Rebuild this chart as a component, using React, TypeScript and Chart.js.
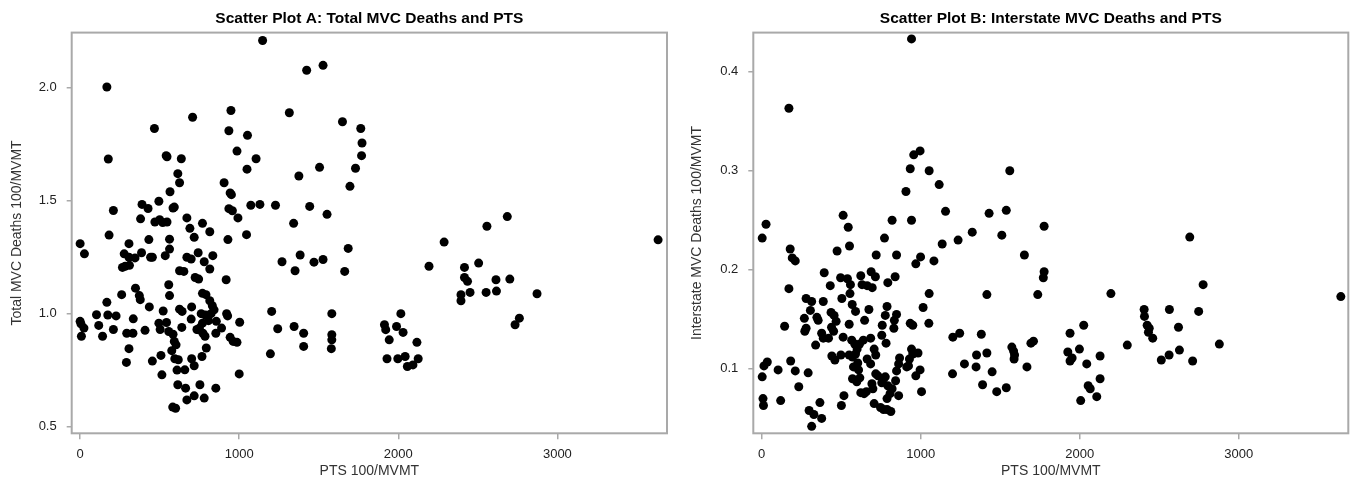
import React, { useEffect, useRef } from "react";
import { Chart, registerables } from "chart.js";

Chart.register(...registerables);

const FONT = "'Liberation Sans', Arial, sans-serif";

const titleA = "Scatter Plot A: Total MVC Deaths and PTS";
const titleB = "Scatter Plot B: Interstate MVC Deaths and PTS";
const xAxisTitle = "PTS 100/MVMT";
const yAxisTitleA = "Total MVC Deaths 100/MVMT";
const yAxisTitleB = "Interstate MVC Deaths 100/MVMT";

const xTicks = [0, 1000, 2000, 3000];
const yTicksA = [0.5, 1.0, 1.5, 2.0];
const yTicksB = [0.1, 0.2, 0.3, 0.4];

// [PTS 100/MVMT, Total MVC deaths 100/MVMT]
const pointsA: [number, number][] = [
  [1147, 2.21], [1424, 2.078], [1527, 2.1], [168, 2.004], [948, 1.9], [1315, 1.89],
  [707, 1.87], [467, 1.82], [935, 1.81], [1052, 1.79], [1649, 1.85], [1764, 1.82],
  [1772, 1.756], [177, 1.685], [986, 1.72], [541, 1.7], [546, 1.695], [636, 1.686],
  [1106, 1.686], [1769, 1.7], [1049, 1.64], [614, 1.62], [1375, 1.61], [1731, 1.644],
  [625, 1.58], [905, 1.58], [1696, 1.564], [565, 1.54], [943, 1.535], [951, 1.527],
  [1505, 1.648], [495, 1.498], [389, 1.484], [427, 1.466], [209, 1.457], [584, 1.468],
  [592, 1.472], [1073, 1.48], [1130, 1.484], [1228, 1.48], [1443, 1.475], [935, 1.465],
  [957, 1.456], [992, 1.424], [1552, 1.44], [380, 1.42], [470, 1.406], [500, 1.416],
  [519, 1.404], [546, 1.406], [671, 1.424], [690, 1.378], [769, 1.4], [815, 1.363],
  [1342, 1.4], [182, 1.348], [1046, 1.35], [717, 1.338], [0, 1.31], [27, 1.265],
  [307, 1.31], [432, 1.328], [929, 1.328], [562, 1.33], [562, 1.286], [277, 1.265],
  [307, 1.25], [386, 1.27], [345, 1.247], [266, 1.205], [283, 1.21], [310, 1.214],
  [443, 1.25], [454, 1.25], [535, 1.257], [671, 1.25], [698, 1.242], [742, 1.27],
  [780, 1.23], [834, 1.257], [815, 1.198], [625, 1.19], [652, 1.187], [723, 1.16],
  [745, 1.153], [1269, 1.23], [1383, 1.26], [1470, 1.228], [1527, 1.24], [1685, 1.289],
  [1351, 1.19], [1663, 1.187], [2193, 1.21], [2288, 1.317], [2557, 1.387], [2685, 1.43],
  [2505, 1.224], [2416, 1.205], [2416, 1.16], [2435, 1.143], [2451, 1.094], [2394, 1.084],
  [2394, 1.057], [2552, 1.094], [2617, 1.1], [2614, 1.15], [2701, 1.153], [2872, 1.088],
  [2734, 0.951], [2761, 0.98], [3633, 1.327], [918, 1.15], [557, 1.128], [562, 1.08],
  [348, 1.113], [261, 1.084], [372, 1.08], [378, 1.062], [435, 1.03], [168, 1.05],
  [769, 1.09], [791, 1.084], [815, 1.057], [522, 1.012], [625, 1.02], [641, 1.01],
  [701, 1.03], [831, 1.035], [842, 1.017], [823, 1.0], [761, 1.0], [921, 1.0],
  [927, 0.99], [1003, 0.962], [1204, 1.01], [1582, 1.0], [2016, 1.0], [0, 0.966],
  [5, 0.955], [24, 0.936], [8, 0.9], [103, 0.995], [174, 0.994], [117, 0.948],
  [226, 0.99], [209, 0.93], [141, 0.9], [293, 0.913], [332, 0.913], [334, 0.977],
  [408, 0.926], [307, 0.845], [291, 0.784], [495, 0.958], [503, 0.93], [543, 0.961],
  [557, 0.921], [584, 0.909], [508, 0.815], [454, 0.79], [514, 0.729], [639, 0.939],
  [698, 0.976], [742, 0.929], [769, 0.958], [788, 0.994], [807, 0.969], [734, 0.93],
  [750, 0.936], [772, 0.913], [785, 0.9], [793, 0.848], [856, 0.966], [853, 0.913],
  [889, 0.936], [592, 0.877], [603, 0.862], [576, 0.836], [595, 0.8], [617, 0.796],
  [609, 0.75], [701, 0.8], [766, 0.81], [717, 0.769], [658, 0.751], [614, 0.685],
  [663, 0.67], [753, 0.685], [853, 0.67], [717, 0.636], [671, 0.618], [780, 0.626],
  [582, 0.586], [600, 0.581], [943, 0.895], [962, 0.877], [986, 0.873], [1000, 0.733],
  [1196, 0.822], [1242, 0.933], [1345, 0.943], [1405, 0.913], [1405, 0.855], [1579, 0.845],
  [1582, 0.907], [1582, 0.884], [1913, 0.951], [1921, 0.929], [1943, 0.884], [1989, 0.943],
  [2030, 0.917], [1929, 0.8], [1997, 0.8], [2043, 0.81], [2117, 0.873], [2057, 0.766],
  [2092, 0.773], [2125, 0.8],
];

// [PTS 100/MVMT, Interstate MVC deaths 100/MVMT]
const pointsB: [number, number][] = [
  [942, 0.433], [171, 0.363], [996, 0.32], [956, 0.316], [934, 0.302], [1053, 0.3],
  [1560, 0.3], [1116, 0.286], [907, 0.279], [1156, 0.259], [1430, 0.257], [1538, 0.26],
  [942, 0.25], [820, 0.25], [512, 0.255], [27, 0.246], [3, 0.232], [544, 0.243],
  [1776, 0.244], [1510, 0.235], [1324, 0.238], [1235, 0.23], [1135, 0.226], [772, 0.232],
  [552, 0.224], [2692, 0.233], [179, 0.221], [192, 0.212], [211, 0.209], [474, 0.219],
  [720, 0.215], [848, 0.215], [999, 0.213], [969, 0.206], [1083, 0.209], [1652, 0.215],
  [1776, 0.198], [1771, 0.192], [1736, 0.175], [2196, 0.176], [2776, 0.185], [3642, 0.173],
  [1416, 0.175], [1053, 0.176], [1015, 0.162], [171, 0.181], [393, 0.197], [431, 0.184],
  [496, 0.192], [539, 0.191], [558, 0.185], [555, 0.176], [623, 0.194], [631, 0.185],
  [663, 0.184], [695, 0.182], [688, 0.198], [715, 0.193], [793, 0.187], [839, 0.193],
  [279, 0.171], [314, 0.168], [306, 0.159], [387, 0.168], [504, 0.171], [569, 0.165],
  [590, 0.158], [674, 0.16], [788, 0.163], [777, 0.154], [848, 0.155], [834, 0.149],
  [268, 0.151], [279, 0.141], [271, 0.138], [347, 0.152], [355, 0.149], [436, 0.157],
  [455, 0.154], [468, 0.148], [144, 0.143], [377, 0.136], [387, 0.131], [339, 0.124],
  [439, 0.142], [452, 0.138], [420, 0.131], [512, 0.132], [550, 0.145], [566, 0.129],
  [585, 0.125], [600, 0.12], [615, 0.125], [647, 0.149], [639, 0.129], [685, 0.131],
  [758, 0.144], [755, 0.134], [782, 0.126], [831, 0.141], [934, 0.146], [950, 0.144],
  [1051, 0.146], [1202, 0.132], [1245, 0.136], [1381, 0.135], [1939, 0.136], [2025, 0.144],
  [2299, 0.124], [2405, 0.16], [2407, 0.153], [2424, 0.144], [2437, 0.141], [2432, 0.137],
  [2459, 0.131], [2564, 0.16], [2621, 0.142], [2748, 0.158], [2878, 0.125], [2627, 0.119],
  [2562, 0.114], [2513, 0.109], [2710, 0.108], [942, 0.12], [950, 0.115], [929, 0.11],
  [983, 0.116], [923, 0.103], [996, 0.099], [969, 0.093], [1005, 0.077], [1275, 0.105],
  [1200, 0.095], [1348, 0.102], [1351, 0.114], [1416, 0.116], [1449, 0.097], [1389, 0.084],
  [1478, 0.077], [1538, 0.081], [1573, 0.122], [1584, 0.118], [1590, 0.114], [1587, 0.11],
  [1668, 0.102], [1693, 0.126], [1709, 0.128], [1925, 0.117], [1939, 0.108], [1952, 0.111],
  [1998, 0.12], [2044, 0.105], [2128, 0.113], [2053, 0.083], [2066, 0.08], [2107, 0.072],
  [2128, 0.09], [2006, 0.068], [3, 0.092], [14, 0.103], [35, 0.107], [8, 0.07],
  [11, 0.063], [103, 0.099], [119, 0.068], [182, 0.108], [211, 0.098], [233, 0.082],
  [292, 0.096], [298, 0.058], [328, 0.054], [314, 0.042], [377, 0.05], [366, 0.066],
  [441, 0.113], [460, 0.109], [498, 0.114], [501, 0.063], [517, 0.073], [550, 0.114],
  [571, 0.112], [590, 0.115], [577, 0.102], [604, 0.106], [609, 0.099], [571, 0.09],
  [598, 0.087], [617, 0.091], [623, 0.076], [644, 0.075], [658, 0.077], [699, 0.08],
  [693, 0.085], [663, 0.11], [685, 0.105], [707, 0.12], [717, 0.114], [717, 0.095],
  [731, 0.093], [755, 0.086], [766, 0.09], [777, 0.092], [793, 0.083], [707, 0.065],
  [747, 0.061], [766, 0.059], [788, 0.059], [812, 0.057], [788, 0.07], [807, 0.075],
  [820, 0.08], [842, 0.088], [861, 0.073], [848, 0.098], [861, 0.105], [867, 0.111],
  [912, 0.102],
];

const FRAME_COLOR = "#a9a9a9";

const framePlugin = {
  id: "plotFrame",
  beforeDatasetsDraw(chart: any) {
    const { ctx, chartArea } = chart;
    const { left, top, right, bottom } = chartArea;
    ctx.save();
    ctx.strokeStyle = FRAME_COLOR;
    ctx.lineWidth = 2;
    ctx.strokeRect(left, top, right - left, bottom - top);
    ctx.restore();
  },
};

type PlotProps = {
  width: number;
  height: number;
  left: number;
  points: [number, number][];
  title: string;
  yTitle: string;
  yTicks: number[];
  yMin: number;
  yMax: number;
  yAxisWidth: number;
  padRight: number;
};

function ScatterPlot(props: PlotProps) {
  const ref = useRef<HTMLCanvasElement | null>(null);
  useEffect(() => {
    if (!ref.current) return;
    const chart = new Chart(ref.current, {
      type: "scatter",
      data: {
        datasets: [
          {
            data: props.points.map(([x, y]) => ({ x, y })),
            backgroundColor: "#000",
            borderColor: "#000",
            borderWidth: 0,
            pointRadius: 4.5,
            pointHoverRadius: 4.5,
          },
        ],
      },
      options: {
        animation: false,
        responsive: false,
        maintainAspectRatio: false,
        events: [],
        layout: { padding: { left: 0, top: 0, right: props.padRight, bottom: 0 } },
        plugins: {
          legend: { display: false },
          tooltip: { enabled: false },
          title: {
            display: true,
            text: props.title,
            fullSize: false,
            color: "#000",
            font: { family: FONT, size: 15.5, weight: "bold" },
            padding: { top: 9, bottom: 5 },
          },
        },
        scales: {
          x: {
            type: "linear",
            min: -53,
            max: 3689,
            afterBuildTicks: (s: any) => {
              s.ticks = xTicks.map((v) => ({ value: v }));
            },
            afterFit: (s: any) => {
              s.height = props.height - 433.3;
            },
            grid: {
              display: true,
              drawOnChartArea: false,
              drawTicks: true,
              tickLength: 6,
              color: FRAME_COLOR,
              lineWidth: 1.5,
            },
            border: { display: false },
            ticks: {
              color: "#222",
              font: { family: FONT, size: 13 },
              padding: 7,
              maxRotation: 0,
              autoSkip: false,
              callback: (v: any) => String(v),
            },
            title: {
              display: true,
              text: xAxisTitle,
              color: "#333",
              font: { family: FONT, size: 14 },
              padding: { top: 0, bottom: 9.5 },
            },
          },
          y: {
            type: "linear",
            min: props.yMin,
            max: props.yMax,
            afterBuildTicks: (s: any) => {
              s.ticks = props.yTicks.map((v) => ({ value: v }));
            },
            afterFit: (s: any) => {
              s.width = props.yAxisWidth;
            },
            grid: {
              display: true,
              drawOnChartArea: false,
              drawTicks: true,
              tickLength: 5,
              color: FRAME_COLOR,
              lineWidth: 1.5,
            },
            border: { display: false },
            ticks: {
              color: "#222",
              font: { family: FONT, size: 13 },
              padding: 10,
              autoSkip: false,
              callback: (v: any) => Number(v).toFixed(1),
            },
            title: {
              display: true,
              text: props.yTitle,
              color: "#333",
              font: { family: FONT, size: 14 },
              padding: { top: 8.6, bottom: 0 },
            },
          },
        },
      } as any,
      plugins: [framePlugin],
    });
    return () => chart.destroy();
  }, []);
  return (
    <canvas
      ref={ref}
      width={props.width}
      height={props.height}
      style={{
        position: "absolute",
        left: props.left,
        top: 0,
        width: props.width,
        height: props.height,
      }}
    />
  );
}

export default function App() {
  return (
    <div
      style={{
        position: "fixed",
        left: 0,
        top: 0,
        width: 1356,
        height: 489,
        background: "#fff",
        overflow: "hidden",
      }}
    >
      <ScatterPlot
        width={680}
        height={489}
        left={0}
        points={pointsA}
        title={titleA}
        yTitle={yAxisTitleA}
        yTicks={yTicksA}
        yMin={0.47}
        yMax={2.245}
        yAxisWidth={71.7}
        padRight={13}
      />
      <ScatterPlot
        width={676}
        height={489}
        left={680}
        points={pointsB}
        title={titleB}
        yTitle={yAxisTitleB}
        yTicks={yTicksB}
        yMin={0.035}
        yMax={0.4394}
        yAxisWidth={73.3}
        padRight={7.7}
      />
    </div>
  );
}
